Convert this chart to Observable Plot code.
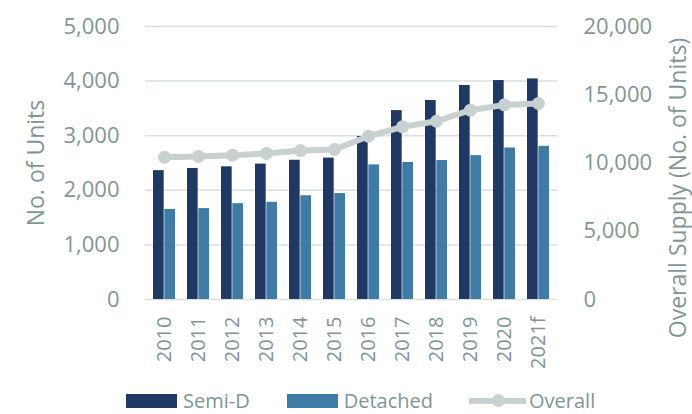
<!DOCTYPE html>
<html>
<head>
<meta charset="utf-8">
<script src="https://cdn.jsdelivr.net/npm/d3@7"></script>
<script src="https://cdn.jsdelivr.net/npm/@observablehq/plot@0.6"></script>
<style>
  html, body { margin: 0; padding: 0; background: #fff; }
  body { width: 692px; height: 414px; overflow: hidden; font-family: "Open Sans", sans-serif; }
  .legend { display: flex; align-items: center; height: 27px; padding-left: 126px; color: #7f9696; font-size: 20px; }
  .item { display: flex; align-items: center; }
  .sw { width: 51px; height: 14px; margin-right: 6px; }
  .ln { position: relative; width: 57px; height: 6px; background: #c9d0d0; margin-right: 3px; }
  .ln::after { content: ""; position: absolute; left: 23px; top: -4px; width: 13px; height: 13px; border-radius: 50%; background: #c9d0d0; }
</style>
</head>
<body>
<div id="chart"></div>
<script>
const years = ["2010","2011","2012","2013","2014","2015","2016","2017","2018","2019","2020","2021f"];
const semiD = [2360, 2400, 2430, 2480, 2550, 2590, 2985, 3460, 3645, 3920, 4010, 4040];
const detached = [1650, 1665, 1755, 1780, 1900, 1940, 2465, 2510, 2545, 2635, 2775, 2805];
const overall = [10420, 10480, 10570, 10700, 10910, 10990, 11960, 12650, 13060, 13870, 14260, 14360];
const leftTicks = [0, 1000, 2000, 3000, 4000, 5000];
const rightTicks = [0, 5000, 10000, 15000, 20000];
const rightMax = 20000;
const leftMax = 5000;

const seriesNames = ["Semi-D", "Detached", "Overall"];
const colors = ["#1f3864", "#3f7ba7", "#c9d0d0"];
const textColor = "#7f9696";

const data = years.map((y, i) => ({year: y, semi: semiD[i], det: detached[i], overall: overall[i]}));
const ratio = rightMax / leftMax;

const chart = Plot.plot({
  width: 692,
  height: 387,
  marginTop: 26,
  marginBottom: 88,
  marginLeft: 145,
  marginRight: 135,
  style: {fontFamily: "Open Sans, sans-serif", fontSize: "22px", color: textColor, background: "#fff", display: "block"},
  x: {domain: years, paddingInner: 0.34, paddingOuter: 0.17, label: null},
  y: {domain: [0, leftMax], label: null},
  marks: [
    Plot.gridY(leftTicks, {stroke: "#d9dfdf", strokeOpacity: 1, strokeWidth: 1.5}),
    Plot.barY(data, {x: "year", y: "semi", fill: colors[0], insetRight: 11.33}),
    Plot.barY(data, {x: "year", y: "det", fill: colors[1], insetLeft: 11.33}),
    Plot.line(data, {x: "year", y: d => d.overall / ratio, stroke: colors[2], strokeWidth: 6}),
    Plot.dot(data, {x: "year", y: d => d.overall / ratio, r: 6.5, fill: colors[2]}),
    Plot.axisY({anchor: "left", ticks: leftTicks, tickSize: 0, tickPadding: 26, tickFormat: d3.format(","), label: null, fontSize: 22}),
    Plot.axisY({anchor: "right", ticks: rightTicks.map(v => v / ratio), tickSize: 0, tickPadding: 26, tickFormat: d => d3.format(",")(Math.round(d * ratio)), label: null, fontSize: 22}),
    Plot.axisX({tickRotate: -90, tickSize: 0, tickPadding: 17, label: null, fontSize: 20}),
    Plot.text(["No. of Units"], {frameAnchor: "left", textAnchor: "middle", dx: -109, rotate: -90, fontSize: 23, fill: textColor}),
    Plot.text(["Overall Supply (No. of Units)"], {frameAnchor: "right", textAnchor: "middle", dx: 121, dy: 25, rotate: -90, fontSize: 23, fill: textColor})
  ]
});
document.getElementById("chart").appendChild(chart);

const legend = document.createElement("div");
legend.className = "legend";
legend.innerHTML = `
  <div class="item"><div class="sw" style="background:${colors[0]}"></div><span>${seriesNames[0]}</span></div>
  <div class="item" style="margin-left:37px"><div class="sw" style="background:${colors[1]}"></div><span>${seriesNames[1]}</span></div>
  <div class="item" style="margin-left:36px"><div class="ln"></div><span>${seriesNames[2]}</span></div>`;
document.body.appendChild(legend);
</script>
</body>
</html>
